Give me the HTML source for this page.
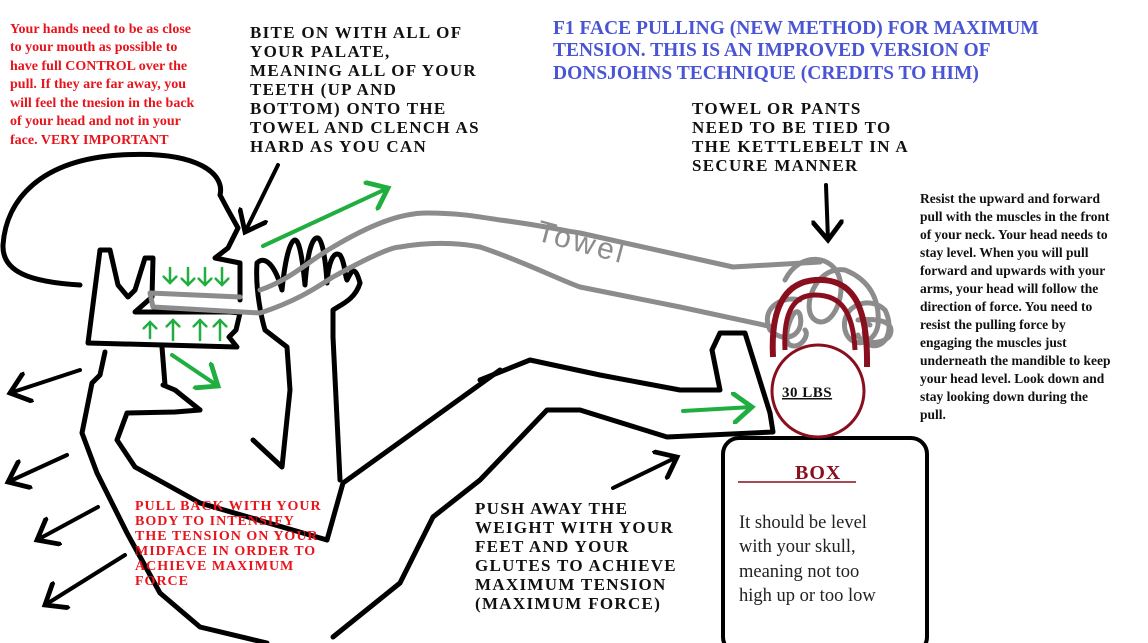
<!DOCTYPE html>
<html><head><meta charset="utf-8"><style>
html,body{margin:0;padding:0;background:#fff;}
svg{display:block}
.r{font-family:"Liberation Serif",serif;font-weight:bold;fill:#e8141c;font-size:14px}
.k{font-family:"Liberation Serif",serif;font-weight:bold;fill:#111;font-size:17px;letter-spacing:1.3px}
.b{font-family:"Liberation Serif",serif;font-weight:bold;fill:#4a55d4;font-size:19.5px}
.s{font-family:"Liberation Serif",serif;font-weight:bold;fill:#111;font-size:13.5px}
.rc{font-family:"Liberation Serif",serif;font-weight:bold;fill:#e8141c;font-size:14px;letter-spacing:1px}
</style></head><body>
<svg width="1148" height="643" viewBox="0 0 1148 643" xmlns="http://www.w3.org/2000/svg">
<rect width="1148" height="643" fill="#fff"/>
<defs>
<marker id="ak" markerWidth="8" markerHeight="8" refX="5" refY="4" orient="auto" markerUnits="strokeWidth"><path d="M0,0 L5,4 L0,8" fill="none" stroke="#000" stroke-width="1.2"/></marker>
<marker id="ag" markerWidth="8" markerHeight="8" refX="5" refY="4" orient="auto" markerUnits="strokeWidth"><path d="M0,0 L5,4 L0,8" fill="none" stroke="#1fae3f" stroke-width="1.2"/></marker>
<marker id="ags" markerWidth="6" markerHeight="6" refX="3" refY="3" orient="auto" markerUnits="strokeWidth"><path d="M0,0 L3,3 L0,6" fill="none" stroke="#1fae3f" stroke-width="1"/></marker>
</defs>
<g fill="none" stroke="#000" stroke-width="5" stroke-linecap="round" stroke-linejoin="round">
<path d="M80,285 C30,282 2,272 3,245 C6,200 40,160 120,155 C200,150 225,175 220,195 L228,210 L238,228 L228,248 L215,258 L240,263 L240,300"/>
<path d="M100,250 L110,250 L118,285 L128,297 L135,290 L145,258 L153,258 L152,297 L135,312 L230,312 L240,313 L236,330 L229,337 L237,347 L88,343 L100,250"/>
<path d="M105,352 L100,375 L92,383 L82,433 L97,473 L127,533 L160,593 L200,627 L267,643"/>
<path d="M162,347 L165,385 L163,385 L175,390 L200,410"/>
<path d="M200,410 L175,412 L127,413 L117,440 L135,467 L200,503 L327,540 L343,483 L500,370"/>
<path d="M257,263 C255,290 262,320 265,330 L287,347 L290,390 L282,467 L253,440"/>
<path d="M360,283 C355,300 340,305 333,310 L333,337 L340,480"/>
<path d="M257,263 C265,255 275,265 282,290 C285,260 290,240 295,240 C300,240 303,265 305,285 C307,255 312,236 318,238 C323,240 326,265 327,283 C328,265 333,250 340,255 C345,262 345,277 347,280 C352,270 355,265 360,283"/>
<path d="M333,637 L400,583 L433,517 L480,480 L547,410 L580,410 L667,437 L773,432 L770,413"/>
<path d="M480,380 L530,360 L600,375 L680,390 L720,390 L712,350 L720,333 L745,333 L770,413"/>
<rect x="723" y="438" width="204" height="215" rx="16" ry="16" stroke-width="4"/>
<path d="M278,165 L245,232" marker-end="url(#ak)" stroke-width="4"/>
<path d="M826,185 L828,240" marker-end="url(#ak)" stroke-width="4"/>
<path d="M613,488 L677,457" marker-end="url(#ak)" stroke-width="4"/>
<path d="M80,370 L10,393" marker-end="url(#ak)" stroke-width="4"/>
<path d="M67,455 L8,482" marker-end="url(#ak)" stroke-width="4"/>
<path d="M98,507 L37,540" marker-end="url(#ak)" stroke-width="4"/>
<path d="M125,555 L45,605" marker-end="url(#ak)" stroke-width="4"/>
</g>
<g fill="none" stroke="#8c8c8c" stroke-width="5" stroke-linecap="round" stroke-linejoin="round">
<path d="M240,297 L150,293 L153,307 L260,313 C300,300 320,285 333,277 C360,262 390,247 400,247 C440,240 470,245 480,247 C520,260 560,280 580,287 L680,307 L773,327"/>
<path d="M260,290 C290,280 310,260 333,247 C370,225 400,213 427,213 C460,213 480,217 500,220 C540,225 560,230 580,233 L733,267 L820,262"/>
<path d="M785,280 C800,250 835,255 840,280 C845,300 830,330 815,320 C800,310 815,265 845,270 C870,280 880,300 878,325 C875,345 850,350 845,330 C840,305 870,295 885,310 C895,330 885,350 870,345 C860,340 865,320 870,325"/>
<path d="M800,300 C780,295 760,310 770,330 C785,345 805,335 800,315 C795,300 780,340 790,345 C800,350 810,335 805,330"/>
<path d="M858,320 C880,318 895,322 890,335 C885,345 860,345 858,335"/>
</g>
<text x="535" y="240" transform="rotate(15 535 240)" font-family="Liberation Sans,sans-serif" font-size="30" fill="#8c8c8c" letter-spacing="3">Towel</text>
<path d="M773,357 C770,300 790,282 815,280 C850,278 868,300 867,367" fill="none" stroke="#8a0f1e" stroke-width="6"/>
<path d="M785,350 C783,310 795,295 815,295 C840,295 853,310 855,350" fill="none" stroke="#8a0f1e" stroke-width="5"/>
<circle cx="818" cy="391" r="46" fill="#fff" stroke="#8a0f1e" stroke-width="3"/>
<text x="782" y="397" font-family="Liberation Serif,serif" font-weight="bold" font-size="15" fill="#111" text-decoration="underline" letter-spacing="0.5">30 LBS</text>
<g fill="none" stroke="#1fae3f" stroke-width="4" stroke-linecap="round">
<path d="M263,246 L388,188" marker-end="url(#ag)"/>
<path d="M172,355 L218,386" marker-end="url(#ag)"/>
<path d="M683,411 L752,407" marker-end="url(#ag)"/>
</g>
<g fill="none" stroke="#1fae3f" stroke-width="2.5" stroke-linecap="round">
<path d="M170,268 L170,283" marker-end="url(#ags)"/>
<path d="M188,268 L188,285" marker-end="url(#ags)"/>
<path d="M205,268 L205,285" marker-end="url(#ags)"/>
<path d="M222,268 L222,285" marker-end="url(#ags)"/>
<path d="M150,338 L150,322" marker-end="url(#ags)"/>
<path d="M173,340 L173,320" marker-end="url(#ags)"/>
<path d="M200,340 L200,320" marker-end="url(#ags)"/>
<path d="M220,340 L220,320" marker-end="url(#ags)"/>
</g>
<g class="r">
<text x="10" y="33">Your hands need to be as close</text>
<text x="10" y="51">to your mouth as possible to</text>
<text x="10" y="70">have full CONTROL over the</text>
<text x="10" y="88">pull. If they are far away, you</text>
<text x="10" y="107">will feel the tnesion in the back</text>
<text x="10" y="125">of your head and not in your</text>
<text x="10" y="144">face. VERY IMPORTANT</text>
</g>
<g class="k">
<text x="250" y="38">BITE ON WITH ALL OF</text>
<text x="250" y="57">YOUR PALATE,</text>
<text x="250" y="76">MEANING ALL OF YOUR</text>
<text x="250" y="95">TEETH (UP AND</text>
<text x="250" y="114">BOTTOM) ONTO THE</text>
<text x="250" y="133">TOWEL AND CLENCH AS</text>
<text x="250" y="152">HARD AS YOU CAN</text>
</g>
<g class="b">
<text x="553" y="34">F1 FACE PULLING (NEW METHOD) FOR MAXIMUM</text>
<text x="553" y="56">TENSION. THIS IS AN IMPROVED VERSION OF</text>
<text x="553" y="79">DONSJOHNS TECHNIQUE (CREDITS TO HIM)</text>
</g>
<g class="k">
<text x="692" y="114">TOWEL OR PANTS</text>
<text x="692" y="133">NEED TO BE TIED TO</text>
<text x="692" y="152">THE KETTLEBELT IN A</text>
<text x="692" y="171">SECURE MANNER</text>
</g>
<g class="s">
<text x="920" y="203">Resist the upward and forward</text>
<text x="920" y="221">pull with the muscles in the front</text>
<text x="920" y="239">of your neck. Your head needs to</text>
<text x="920" y="257">stay level. When you will pull</text>
<text x="920" y="275">forward and upwards with your</text>
<text x="920" y="293">arms, your head will follow the</text>
<text x="920" y="311">direction of force. You need to</text>
<text x="920" y="329">resist the pulling force by</text>
<text x="920" y="347">engaging the muscles just</text>
<text x="920" y="365">underneath the mandible to keep</text>
<text x="920" y="383">your head level. Look down and</text>
<text x="920" y="401">stay looking down during the</text>
<text x="920" y="419">pull.</text>
</g>
<g class="rc">
<text x="135" y="510">PULL BACK WITH YOUR</text>
<text x="135" y="525">BODY TO INTENSIFY</text>
<text x="135" y="540">THE TENSION ON YOUR</text>
<text x="135" y="555">MIDFACE IN ORDER TO</text>
<text x="135" y="570">ACHIEVE MAXIMUM</text>
<text x="135" y="585">FORCE</text>
</g>
<g class="k">
<text x="475" y="514">PUSH AWAY THE</text>
<text x="475" y="533">WEIGHT WITH YOUR</text>
<text x="475" y="552">FEET AND YOUR</text>
<text x="475" y="571">GLUTES TO ACHIEVE</text>
<text x="475" y="590">MAXIMUM TENSION</text>
<text x="475" y="609">(MAXIMUM FORCE)</text>
</g>
<text x="795" y="479" font-family="Liberation Serif,serif" font-weight="bold" font-size="20" fill="#8a0f1e" letter-spacing="1">BOX</text>
<line x1="738" y1="482" x2="856" y2="482" stroke="#8a0f1e" stroke-width="1.5"/>
<g font-family="Liberation Serif,serif" font-size="18.5" fill="#222">
<text x="739" y="528">It should be level</text>
<text x="739" y="552">with your skull,</text>
<text x="739" y="577">meaning not too</text>
<text x="739" y="601">high up or too low</text>
</g>
</svg>
</body></html>
